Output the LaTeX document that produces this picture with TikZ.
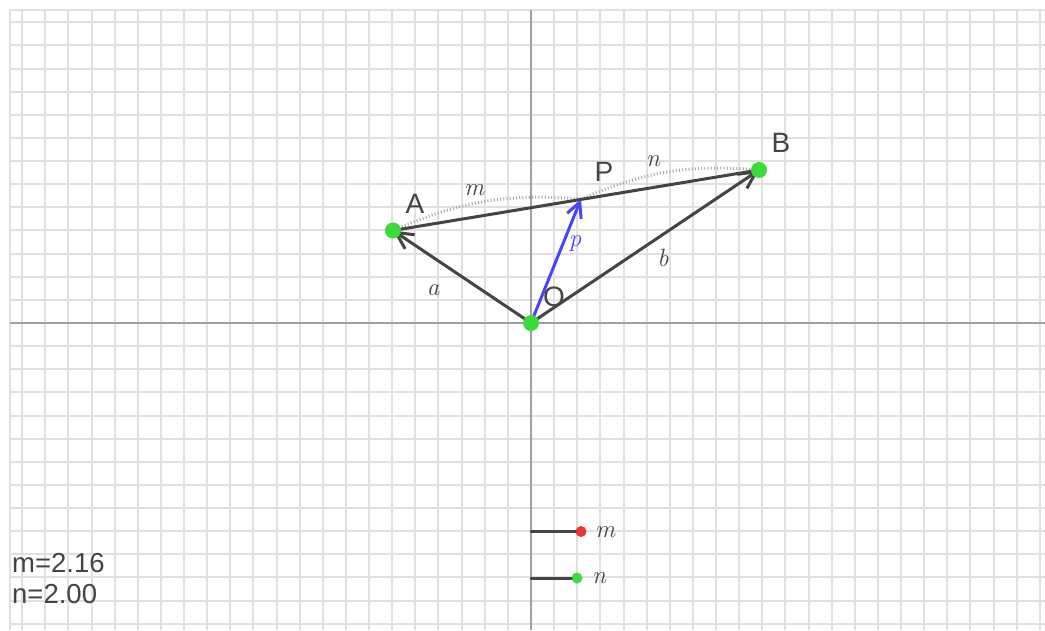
\documentclass[tikz,border=0pt]{standalone}
\usepackage{fontspec}
\newfontfamily\lab{Liberation Sans}
\usetikzlibrary{arrows.meta}
\definecolor{gridc}{HTML}{E0E0E0}
\definecolor{axisc}{HTML}{A0A0A0}
\definecolor{vec}{HTML}{444444}
\definecolor{pblue}{HTML}{4646F5}
\definecolor{ptgreen}{HTML}{3ADB3A}
\definecolor{ptred}{HTML}{EE3333}
\definecolor{arcc}{HTML}{A8A8A8}
\tikzset{
  gridline/.style={draw=gridc, line width=2pt},
  axisline/.style={draw=axisc, line width=1.2pt},
  vector/.style={draw=vec, line width=3pt, line cap=round, -{Straight Barb[length=17pt,width=17pt,line width=3pt]}},
  pvector/.style={draw=pblue, line width=3pt, line cap=round, -{Straight Barb[length=15pt,width=15pt,line width=3pt]}},
  seg/.style={draw=vec, line width=3pt, line cap=round},
  dotarc/.style={draw=arcc, line width=3pt, dash pattern=on 1pt off 2.2pt},
  bigpt/.style={circle, fill=ptgreen, minimum size=16pt, inner sep=0pt},
  ptlabel/.style={font=\lab\fontsize{28}{28}\selectfont, text=vec, inner sep=0pt},
  mathlabel/.style={font=\fontsize{25}{25}\selectfont\itshape, text=vec, inner sep=0pt},
  valtext/.style={font=\lab\fontsize{27.5}{30}\selectfont, text=vec, inner sep=0pt, anchor=base west},
}
\begin{document}
\begin{tikzpicture}[x=1pt,y=-1pt]
\useasboundingbox (0,0) rectangle (1045,630);
\fill[white] (0,0) rectangle (1045,630);
% grid
\foreach \k in {-22,...,22} {
  \pgfmathsetmacro{\gx}{round(531+\k*23.13)}
  \draw[gridline] (\gx,10) -- (\gx,630);
}
\foreach \k in {-13,...,13} {
  \pgfmathsetmacro{\gy}{round(323+\k*23.13)}
  \draw[gridline] (10,\gy) -- (1045,\gy);
}
\draw[gridline] (10,10) -- (1045,10);
\draw[gridline] (10,10) -- (10,630);
\draw[axisline] (531,10) -- (531,630);
\draw[axisline] (10,323) -- (1045,323);
% points
\coordinate (O) at (531,323);
\coordinate (A) at (393,230.5);
\coordinate (B) at (759,170);
\coordinate (P) at (581,199);
% dotted arcs
\draw[dotarc] (A) to[bend left=14] (P);
\draw[dotarc] (P) to[bend left=14] (B);
% vectors
\draw[seg] (A) -- (B);
\draw[vector] (O) -- (A);
\draw[vector] (O) -- (B);
\draw[pvector] (O) -- (P);
% point markers
\node[bigpt] (Od) at (O) {};
\node[bigpt] (Ad) at (A) {};
\node[bigpt] (Bd) at (B) {};
% labels
\node[ptlabel] (lA) at (415,204) {A};
\node[ptlabel] (lB) at (781,143) {B};
\node[ptlabel] (lP) at (604,172) {P};
\node[ptlabel] (lO) at (554,297) {O};
\node[mathlabel] (la) at (433,290) {a};
\node[mathlabel] (lb) at (663,258) {b};
\node[mathlabel, text=pblue] (lp) at (575,243) {p};
\node[mathlabel] (lm) at (474,190) {m};
\node[mathlabel] (ln) at (653,161) {n};
% sliders
\coordinate (s1) at (531,531.5);
\coordinate (s2) at (531,578);
\node[circle, fill=ptred, minimum size=11pt, inner sep=0pt] (mdot) at (581,531.5) {};
\node[circle, fill=ptgreen, minimum size=11pt, inner sep=0pt] (ndot) at (577,578) {};
\draw[seg] (s1) -- (mdot);
\draw[seg] (s2) -- (ndot);
\node[mathlabel] (sm) at (605,532) {m};
\node[mathlabel] (sn) at (599,578) {n};
% values
\node[valtext] (vm) at (12,572) {m=2.16};
\node[valtext] (vn) at (12,603) {n=2.00};
\end{tikzpicture}
\end{document}
